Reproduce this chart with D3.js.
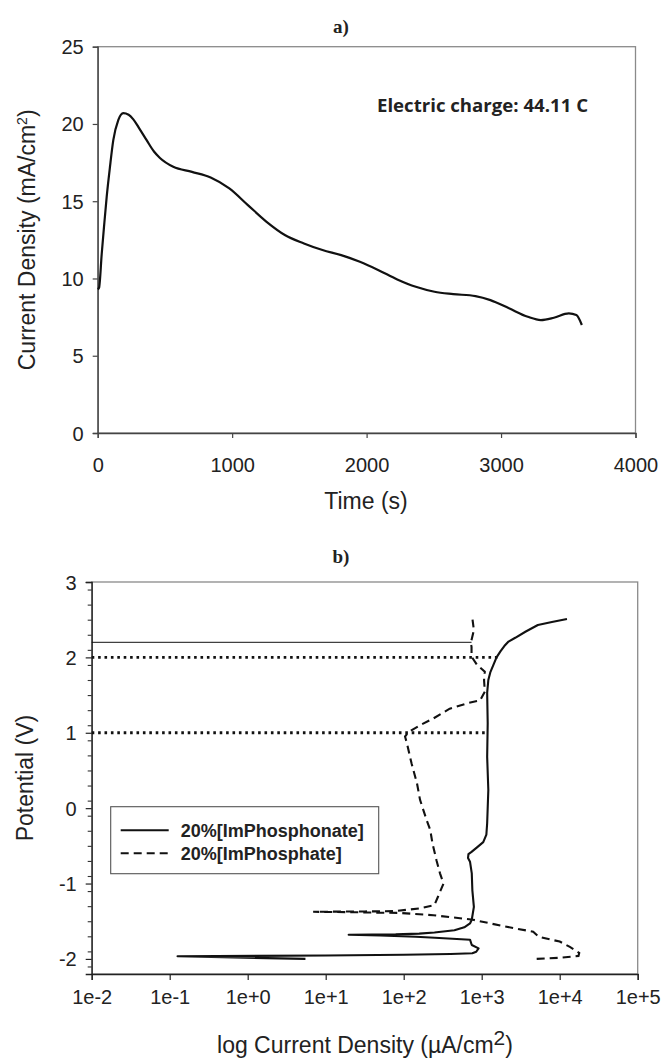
<!DOCTYPE html>
<html>
<head>
<meta charset="utf-8">
<script src="https://cdn.jsdelivr.net/npm/d3@7"></script>
<style>
  body { margin: 0; background: #fff; }
  text { font-family: "Liberation Sans", Arial, sans-serif; fill: #222; }
</style>
</head>
<body>
<svg id="chart" width="664" height="1064"></svg>
<script>
// ---- panel a) chronoamperometry
const timeS = [0, 10, 30, 47, 67, 91, 116, 153, 190, 230, 265, 310, 364, 420, 463, 562, 701, 840, 979, 1117, 1256, 1395, 1534, 1672, 1811, 1950, 2089, 2228, 2366, 2505, 2644, 2810, 2921, 3059, 3199, 3296, 3393, 3504, 3560, 3601];
const densityMA = [9.3, 9.4, 11.6, 13.35, 15.3, 17.2, 18.95, 20.25, 20.7, 20.6, 20.3, 19.7, 18.95, 18.2, 17.8, 17.23, 16.9, 16.54, 15.83, 14.75, 13.67, 12.8, 12.27, 11.84, 11.51, 11.08, 10.54, 9.94, 9.46, 9.14, 8.99, 8.86, 8.6, 8.07, 7.52, 7.31, 7.46, 7.74, 7.63, 6.99];
const timeTicks = [0, 1000, 2000, 3000, 4000];
const densityTicks = [0, 5, 10, 15, 20, 25];
const chargeNote = "Electric charge: 44.11 C";

// ---- panel b) polarization curves (potential V, current µA/cm2)
const phosphonateV = [-2.0, -1.965, -1.955, -1.945, -1.935, -1.925, -1.905, -1.86, -1.815, -1.745, -1.72, -1.705, -1.69, -1.68, -1.675, -1.665, -1.65, -1.62, -1.58, -1.53, -1.48, -1.31, -1.09, -0.865, -0.71, -0.66, -0.61, -0.58, -0.52, -0.45, -0.35, -0.2, 0.24, 0.68, 1.13, 1.53, 1.70, 1.80, 1.90, 2.00, 2.08, 2.15, 2.21, 2.26, 2.34, 2.43, 2.47, 2.51];
const phosphonateI = [5.5, 0.126, 10, 100, 398, 759, 851, 912, 746, 708, 251, 143, 50, 19.7, 79, 158, 248, 447, 598, 708, 746, 794, 759, 746, 708, 668, 676, 741, 871, 1047, 1148, 1175, 1216, 1175, 1194, 1175, 1216, 1288, 1413, 1549, 1738, 1950, 2208, 2692, 3631, 5248, 7943, 12400];
const phosphateV = [-2.0, -1.985, -1.96, -1.92, -1.84, -1.77, -1.705, -1.64, -1.56, -1.48, -1.42, -1.39, -1.38, -1.375, -1.37, -1.365, -1.33, -1.285, -1.175, -1.0, -0.865, -0.69, -0.47, -0.29, -0.16, 0.11, 0.33, 0.595, 0.86, 0.95, 1.01, 1.10, 1.19, 1.32, 1.39, 1.43, 1.545, 1.70, 1.81, 1.90, 2.01, 2.14, 2.19, 2.36, 2.52];
const phosphateI = [5070, 10000, 17400, 17800, 13500, 10000, 5370, 4570, 1780, 776, 240, 89, 20, 6.9, 31.6, 79, 158, 248, 275, 324, 292, 263, 234, 219, 197, 162, 148, 126, 110, 104, 115, 162, 240, 389, 646, 955, 1096, 1072, 1096, 871, 741, 741, 724, 794, 759];
const seriesNames = ["20%[ImPhosphonate]", "20%[ImPhosphate]"];
const guideV = [2.2, 2.0, 1.0];
const guideEndI = [741, 1600, 1150];
const potentialTicks = [-2, -1, 0, 1, 2, 3];
const currentTicks = [1e-2, 1e-1, 1e0, 1e1, 1e2, 1e3, 1e4, 1e5];
const currentTickLabels = ["1e-2", "1e-1", "1e+0", "1e+1", "1e+2", "1e+3", "1e+4", "1e+5"];

const svg = d3.select("#chart");

// ================= a) =================
const xA = d3.scaleLinear().domain([0, 4000]).range([97.7, 635.5]);
const yA = d3.scaleLinear().domain([0, 25]).range([433, 46.7]);

svg.append("text")
  .attr("x", 341).attr("y", 33)
  .attr("text-anchor", "middle")
  .style("font-family", "'Liberation Serif', 'Times New Roman', serif")
  .style("font-weight", "bold").style("font-size", "19px")
  .text("a)");

svg.append("rect")
  .attr("x", xA(0)).attr("y", yA(25))
  .attr("width", xA(4000) - xA(0)).attr("height", yA(0) - yA(25))
  .attr("fill", "none").attr("stroke", "#8a8a8a").attr("stroke-width", 1.3);

const axisA_left = svg.append("g")
  .attr("transform", `translate(${xA(0)},0)`)
  .call(d3.axisLeft(yA).tickValues(densityTicks).tickSize(5).tickPadding(9)
    .tickFormat(d => String(d)));
const axisA_bottom = svg.append("g")
  .attr("transform", `translate(0,${yA(0)})`)
  .call(d3.axisBottom(xA).tickValues(timeTicks).tickSize(5).tickPadding(20)
    .tickFormat(d => String(d)));
[axisA_left, axisA_bottom].forEach(g => {
  g.select(".domain").attr("stroke", "#444").attr("stroke-width", 1.3);
  g.selectAll(".tick line").attr("stroke", "#444").attr("stroke-width", 1.2);
  g.selectAll(".tick text").style("font-size", "20px").attr("fill", "#222");
});
axisA_left.selectAll(".tick text").attr("dy", "0.35em");

const lineA = d3.line()
  .x((d, i) => xA(timeS[i]))
  .y(d => yA(d))
  .curve(d3.curveMonotoneX);
svg.append("path")
  .attr("d", lineA(densityMA))
  .attr("fill", "none").attr("stroke", "#111").attr("stroke-width", 2.2);

svg.append("text")
  .attr("x", 377).attr("y", 112)
  .style("font-family", "'Open Sans', Lato, sans-serif")
  .style("font-weight", "bold").style("font-size", "17px")
  .attr("textLength", 211).attr("lengthAdjust", "spacingAndGlyphs")
  .text(chargeNote);

svg.append("text")
  .attr("x", 366).attr("y", 509)
  .attr("text-anchor", "middle")
  .style("font-size", "23px")
  .text("Time (s)");

const yTitleA = svg.append("text")
  .attr("transform", `translate(35,${(yA(0) + yA(25)) / 2}) rotate(-90)`)
  .attr("text-anchor", "middle")
  .style("font-size", "23px");
yTitleA.append("tspan").text("Current Density (mA/cm");
yTitleA.append("tspan").attr("baseline-shift", "super").style("font-size", "14px").text("2");
yTitleA.append("tspan").text(")");

// ================= b) =================
const xB = d3.scaleLog().domain([1e-2, 1e5]).range([91.7, 637.7]);
const yB = d3.scaleLinear().domain([-2.2, 3]).range([974, 582]);

svg.append("text")
  .attr("x", 341).attr("y", 563)
  .attr("text-anchor", "middle")
  .style("font-family", "'Liberation Serif', 'Times New Roman', serif")
  .style("font-weight", "bold").style("font-size", "19px")
  .text("b)");

svg.append("rect")
  .attr("x", xB(1e-2)).attr("y", yB(3))
  .attr("width", xB(1e5) - xB(1e-2)).attr("height", yB(-2.2) - yB(3))
  .attr("fill", "none").attr("stroke", "#8a8a8a").attr("stroke-width", 1.3);

const minorV = d3.range(-21, 30, 2).map(v => v / 10).filter(v => Math.abs(v - Math.round(v)) > 1e-6);
svg.append("g")
  .attr("transform", `translate(${xB(1e-2)},0)`)
  .call(d3.axisLeft(yB).tickValues(minorV).tickSize(4).tickFormat(""))
  .call(g => g.select(".domain").remove())
  .selectAll(".tick line").attr("stroke", "#333").attr("stroke-width", 1.1);

const axisB_left = svg.append("g")
  .attr("transform", `translate(${xB(1e-2)},0)`)
  .call(d3.axisLeft(yB).tickValues(potentialTicks).tickSize(6).tickPadding(9)
    .tickFormat(d => String(d)));
const axisB_bottom = svg.append("g")
  .attr("transform", `translate(0,${yB(-2.2)})`)
  .call(d3.axisBottom(xB).tickValues(currentTicks).tickSize(6).tickPadding(10)
    .tickFormat((d, i) => currentTickLabels[i]));
[axisB_left, axisB_bottom].forEach(g => {
  g.select(".domain").attr("stroke", "#222").attr("stroke-width", 1.3);
  g.selectAll(".tick line").attr("stroke", "#222").attr("stroke-width", 1.2);
  g.selectAll(".tick text").style("font-size", "20px").attr("fill", "#222");
});
axisB_left.selectAll(".tick text").attr("dy", "0.35em");

// guide lines
guideV.forEach((v, i) => {
  svg.append("line")
    .attr("x1", xB(1e-2)).attr("x2", xB(guideEndI[i]))
    .attr("y1", yB(v)).attr("y2", yB(v))
    .attr("stroke", "#111")
    .attr("stroke-width", i === 0 ? 1 : 2.8)
    .attr("stroke-dasharray", i === 0 ? null : "2.6,3.8");
});

const lineB = d3.line()
  .x(d => xB(d[0]))
  .y(d => yB(d[1]));
svg.append("path")
  .attr("d", lineB(d3.zip(phosphonateI, phosphonateV)))
  .attr("fill", "none").attr("stroke", "#111").attr("stroke-width", 2.1)
  .attr("stroke-linejoin", "round");
svg.append("path")
  .attr("d", lineB(d3.zip(phosphateI, phosphateV)))
  .attr("fill", "none").attr("stroke", "#111").attr("stroke-width", 2.1)
  .attr("stroke-dasharray", "8,5");

// legend
const legend = svg.append("g").attr("transform", "translate(110.7,806.7)");
legend.append("rect")
  .attr("width", 268).attr("height", 67)
  .attr("fill", "#fff").attr("stroke", "#555").attr("stroke-width", 1.1);
seriesNames.forEach((name, i) => {
  const yy = 23.5 + i * 23;
  legend.append("line")
    .attr("x1", 10).attr("x2", 58).attr("y1", yy).attr("y2", yy)
    .attr("stroke", "#111").attr("stroke-width", 2.1)
    .attr("stroke-dasharray", i === 0 ? null : "8,5");
  legend.append("text")
    .attr("x", 70).attr("y", yy + 6.5)
    .style("font-weight", "bold").style("font-size", "18px")
    .text(name);
});

svg.append("text")
  .attr("transform", `translate(33,${(yB(3) + yB(-2.2)) / 2}) rotate(-90)`)
  .attr("text-anchor", "middle")
  .style("font-size", "23px")
  .text("Potential (V)");

const xTitleB = svg.append("text")
  .attr("x", 365).attr("y", 1053)
  .attr("text-anchor", "middle")
  .style("font-size", "23px");
xTitleB.append("tspan").text("log Current Density (\u00b5A/cm");
xTitleB.append("tspan").attr("dy", -8).style("font-size", "21px").text("2");
xTitleB.append("tspan").attr("dy", 8).text(")");
</script>
</body>
</html>
